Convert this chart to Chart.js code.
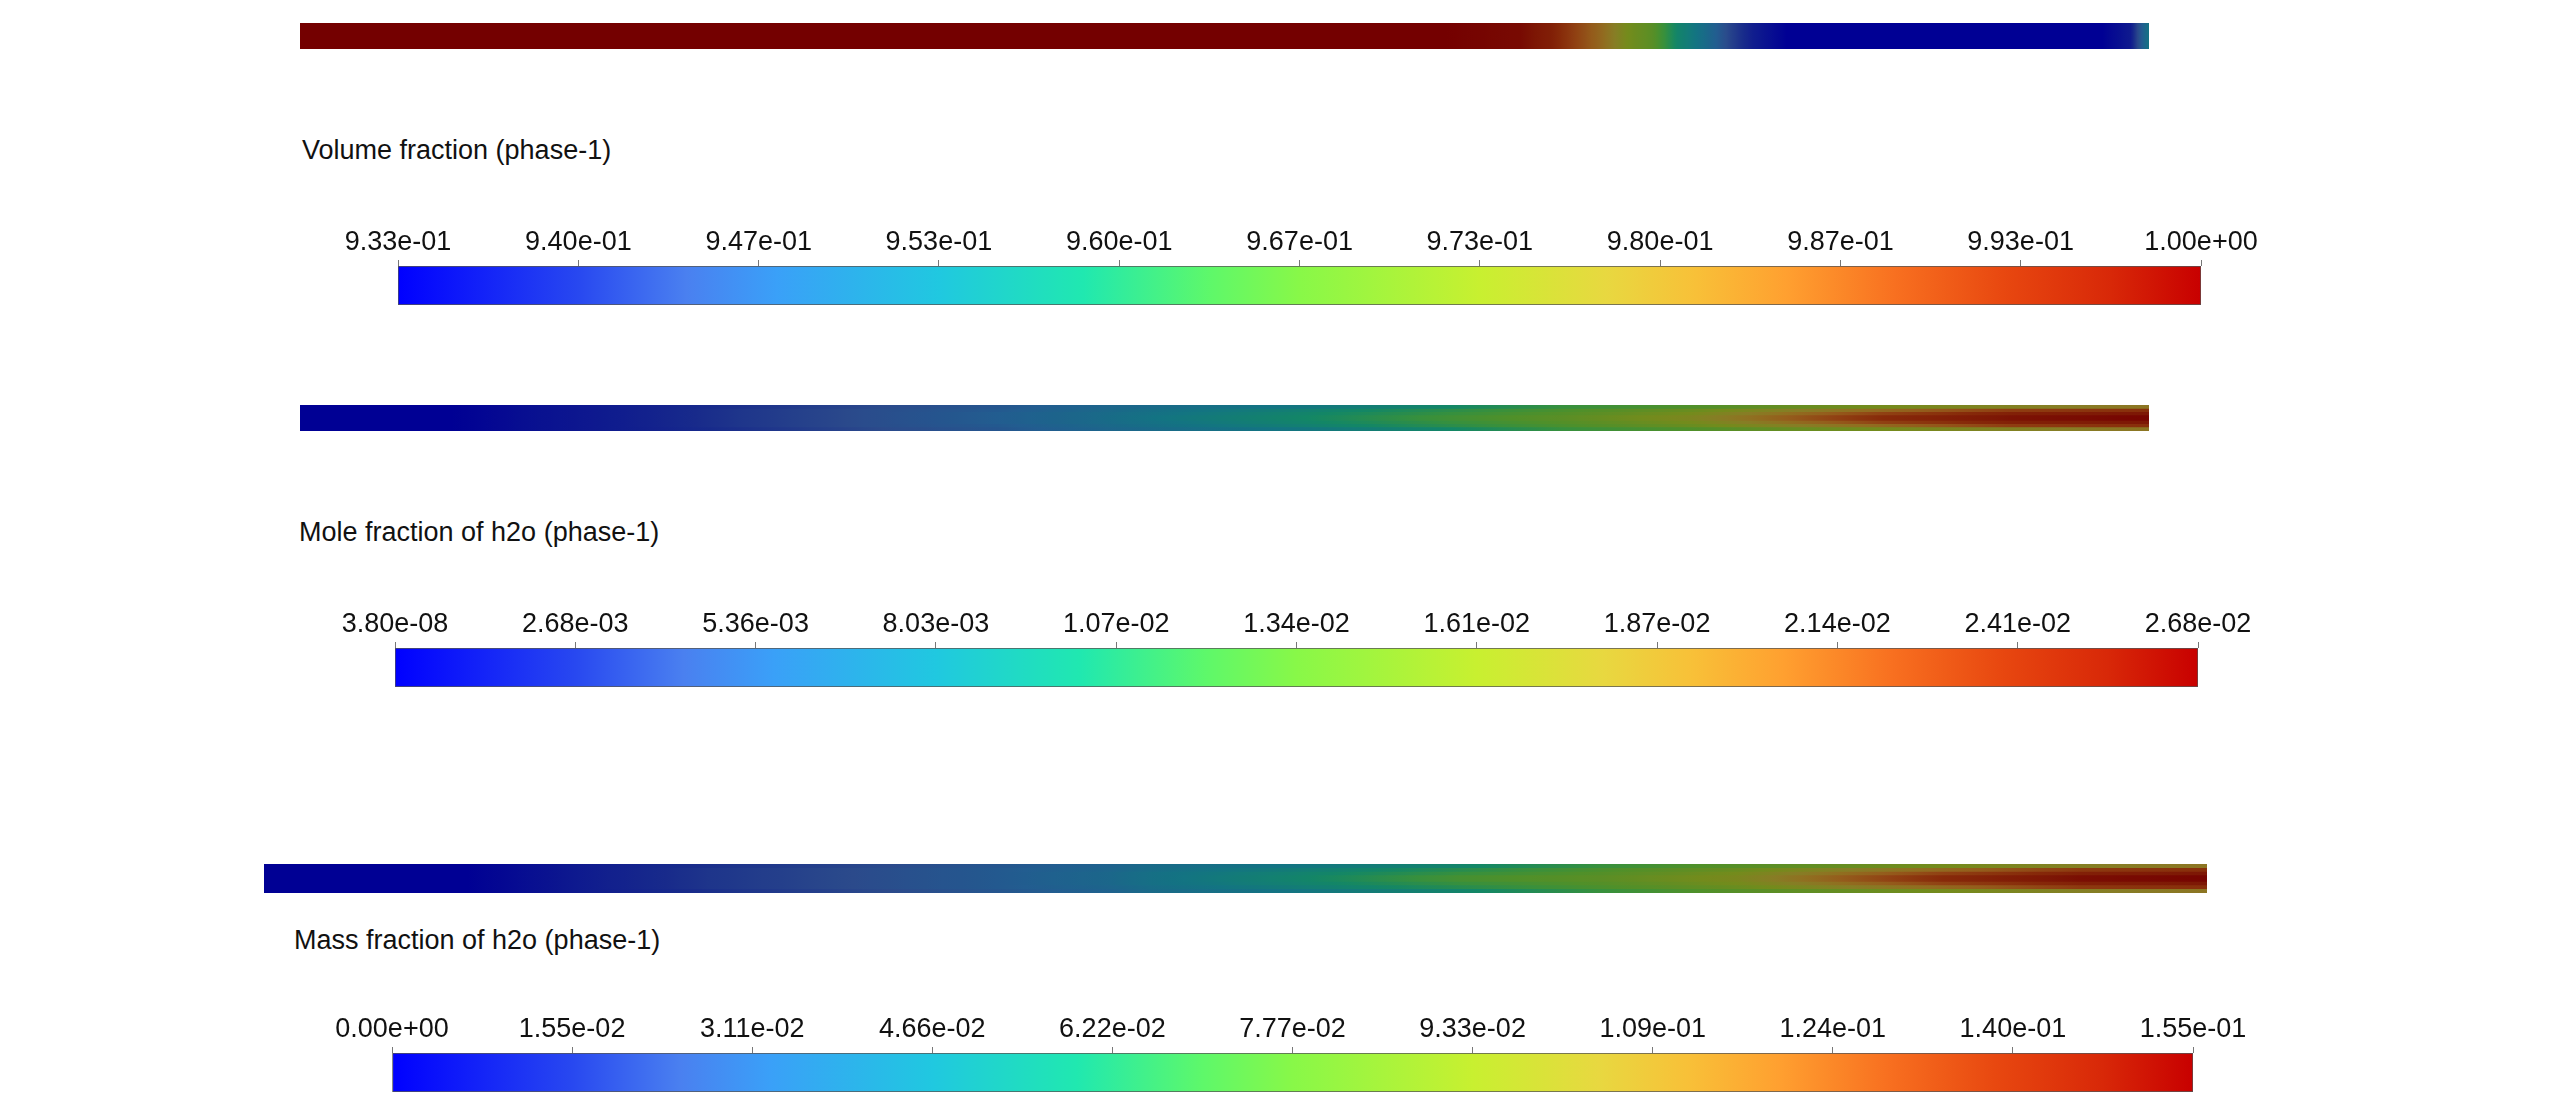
<!DOCTYPE html>
<html>
<head>
<meta charset="utf-8">
<script src="https://cdn.jsdelivr.net/npm/chart.js@4.4.1/dist/chart.umd.min.js"></script>
<style>
  html, body { margin:0; padding:0; background:#fff; }
  body { width:2560px; height:1117px; position:relative; overflow:hidden; font-family:'Liberation Sans', Arial, sans-serif; }
  .box { position:absolute; }
  .title { position:absolute; font-size:27px; color:#111; white-space:nowrap; line-height:1; }
</style>
</head>
<body>
<div class="box" style="left:300px;top:23px;width:1849px;height:26px"><canvas id="strip1"></canvas></div>
<div class="title" style="left:302px;top:137px">Volume fraction (phase-1)</div>
<div class="box" style="left:318px;top:206px;width:1963px;height:102px"><canvas id="bar1"></canvas></div>

<div class="box" style="left:300px;top:405px;width:1849px;height:26px"><canvas id="strip2"></canvas></div>
<div class="title" style="left:299px;top:519px">Mole fraction of h2o (phase-1)</div>
<div class="box" style="left:315px;top:588px;width:1963px;height:102px"><canvas id="bar2"></canvas></div>

<div class="box" style="left:264px;top:864px;width:1943px;height:29px"><canvas id="strip3"></canvas></div>
<div class="title" style="left:294px;top:927px">Mass fraction of h2o (phase-1)</div>
<div class="box" style="left:312px;top:993px;width:1961px;height:102px"><canvas id="bar3"></canvas></div>

<script>
// Volume fraction (phase-1)
var vofTicks = [0.93333, 0.94, 0.94667, 0.95333, 0.96, 0.96667, 0.97333, 0.98, 0.98667, 0.99333, 1.0];
var vofLabels = ['9.33e-01','9.40e-01','9.47e-01','9.53e-01','9.60e-01','9.67e-01','9.73e-01','9.80e-01','9.87e-01','9.93e-01','1.00e+00'];
// position along the strip (0 = left end, 1 = right end)
var vofPos = [0, 0.62, 0.66, 0.676, 0.69, 0.704, 0.718, 0.731, 0.745, 0.759, 0.773, 0.786, 0.804, 0.975, 0.99, 1.0];
var vofVal = [1.0, 1.0, 0.9985, 0.9953, 0.9887, 0.9827, 0.9733, 0.9687, 0.958, 0.9513, 0.9433, 0.938, 0.9334, 0.9334, 0.9375, 0.953];

// Mole fraction of h2o (phase-1)
var moleTicks = [3.8e-8, 0.0026775, 0.005355, 0.0080325, 0.01071, 0.0133875, 0.016065, 0.0187425, 0.02142, 0.0240975, 0.026775];
var moleLabels = ['3.80e-08','2.68e-03','5.36e-03','8.03e-03','1.07e-02','1.34e-02','1.61e-02','1.87e-02','2.14e-02','2.41e-02','2.68e-02'];
var molePos   = [0, 0.082, 0.129, 0.175, 0.237, 0.315, 0.377, 0.423, 0.476, 0.545, 0.614, 0.683, 0.752, 0.804, 0.856, 0.925, 1.0];
var moleCore  = [0, 0, 0.00107, 0.00187, 0.00321, 0.00455, 0.00562, 0.00669, 0.0083, 0.01017, 0.01232, 0.01419, 0.01687, 0.02062, 0.02383, 0.0257, 0.02651];
var moleInner = [0, 0, 0.00107, 0.00187, 0.00321, 0.00455, 0.00562, 0.00669, 0.00803, 0.00991, 0.01178, 0.01366, 0.01607, 0.01928, 0.02222, 0.02463, 0.02544];
var moleMid   = [0, 0, 0.00107, 0.00187, 0.00321, 0.00455, 0.00536, 0.00643, 0.00776, 0.00937, 0.01125, 0.01312, 0.01526, 0.01767, 0.01981, 0.02249, 0.02356];
var moleEdge  = [0, 0, 0.00107, 0.00187, 0.00295, 0.00428, 0.00509, 0.00616, 0.00723, 0.0083, 0.00991, 0.01205, 0.01339, 0.01499, 0.01607, 0.0174, 0.01874];

// Mass fraction of h2o (phase-1)
var massTicks = [0, 0.015545, 0.03109, 0.046635, 0.06218, 0.077725, 0.09327, 0.108815, 0.12436, 0.139905, 0.15545];
var massLabels = ['0.00e+00','1.55e-02','3.11e-02','4.66e-02','6.22e-02','7.77e-02','9.33e-02','1.09e-01','1.24e-01','1.40e-01','1.55e-01'];
var massPos   = [0, 0.105, 0.17, 0.229, 0.303, 0.377, 0.436, 0.456, 0.527, 0.616, 0.687, 0.758, 0.811, 0.864, 0.935, 1.0];
var massCore  = [0, 0, 0.01088, 0.01865, 0.02487, 0.03109, 0.03886, 0.04353, 0.05596, 0.07462, 0.08239, 0.09638, 0.1197, 0.13835, 0.15079, 0.1539];
var massInner = [0, 0, 0.01088, 0.01865, 0.02487, 0.03109, 0.03886, 0.04353, 0.05441, 0.06995, 0.07928, 0.09327, 0.11192, 0.12902, 0.14301, 0.14768];
var massMid   = [0, 0, 0.01088, 0.01865, 0.02487, 0.03109, 0.03731, 0.04197, 0.0513, 0.06529, 0.07617, 0.08861, 0.1026, 0.11503, 0.13213, 0.1368];
var massEdge  = [0, 0, 0.01088, 0.0171, 0.02332, 0.02954, 0.03575, 0.04042, 0.04664, 0.05752, 0.06995, 0.08083, 0.08705, 0.09327, 0.1026, 0.10882];

// share of the strip height covered by each layer (core on top)
var layerHeights = [0.22, 0.46, 0.72, 1.0];

// colour map of the legend bars
var jetStops = [[0,'#0000ff'],[0.1,'#2848f0'],[0.16,'#4a80f0'],[0.21,'#3aa0f8'],[0.3,'#20c8e0'],[0.38,'#20e8b0'],
  [0.45,'#5ef86a'],[0.5,'#88f848'],[0.6,'#c8f030'],[0.67,'#e8d840'],[0.72,'#f8c038'],[0.77,'#ffa030'],
  [0.83,'#f87020'],[0.89,'#e84810'],[0.95,'#d82808'],[1,'#c80000']];
var SHADE = 0.58; // contour strips are darker than the legend
var FONT = "'Liberation Sans', Arial, sans-serif";

function hexRgb(h){
  return [parseInt(h.slice(1,3),16), parseInt(h.slice(3,5),16), parseInt(h.slice(5,7),16)];
}
function cmap(t, k){
  t = Math.max(0, Math.min(1, t));
  for (var i = 1; i < jetStops.length; i++){
    if (t <= jetStops[i][0]){
      var a = jetStops[i-1], b = jetStops[i];
      var f = (t - a[0]) / (b[0] - a[0]);
      var ca = hexRgb(a[1]), cb = hexRgb(b[1]);
      var c = ca.map(function(v, j){ return Math.round((v + (cb[j] - v) * f) * k); });
      return 'rgb(' + c.join(',') + ')';
    }
  }
  return 'rgb(0,0,0)';
}

function fieldGradient(chart, pos, vals, vmin, vmax){
  var xs = chart.scales.x;
  var x0 = xs.getPixelForValue(0), x1 = xs.getPixelForValue(1);
  var g = chart.ctx.createLinearGradient(x0, 0, x1, 0);
  for (var i = 0; i < pos.length - 1; i++){
    for (var s = 0; s < 8; s++){
      var p = pos[i] + (pos[i+1] - pos[i]) * s / 8;
      var v = vals[i] + (vals[i+1] - vals[i]) * s / 8;
      g.addColorStop(p, cmap((v - vmin) / (vmax - vmin), SHADE));
    }
  }
  g.addColorStop(1, cmap((vals[vals.length-1] - vmin) / (vmax - vmin), SHADE));
  return g;
}

// layers: first = centre line (drawn last, on top), last = wall
function stripChart(id, pos, layers, vmin, vmax){
  var sets = layers.map(function(vals, i){
    return {
      data: [[0, 1]],
      backgroundColor: function(c){
        if (!c.chart.chartArea) return '#000';
        return fieldGradient(c.chart, pos, vals, vmin, vmax);
      },
      borderWidth: 0,
      grouped: false,
      barPercentage: layers.length == 1 ? 1 : layerHeights[i],
      categoryPercentage: 1
    };
  });
  return new Chart(document.getElementById(id), {
    type: 'bar',
    data: { labels: ['strip'], datasets: sets },
    options: {
      indexAxis: 'y',
      responsive: true,
      maintainAspectRatio: false,
      animation: false,
      devicePixelRatio: 1,
      layout: { padding: 0 },
      plugins: { legend: { display: false }, tooltip: { enabled: false } },
      scales: {
        x: { type: 'linear', min: 0, max: 1, display: false },
        y: { display: false }
      }
    }
  });
}

function colorbarChart(id, ticks, labels){
  var vmin = ticks[0], vmax = ticks[ticks.length-1];
  return new Chart(document.getElementById(id), {
    type: 'bar',
    data: {
      labels: ['range'],
      datasets: [{
        data: [[vmin, vmax]],
        backgroundColor: function(c){
          if (!c.chart.chartArea) return '#000';
          var xs = c.chart.scales.x;
          var g = c.chart.ctx.createLinearGradient(xs.getPixelForValue(vmin), 0, xs.getPixelForValue(vmax), 0);
          jetStops.forEach(function(st){ g.addColorStop(st[0], st[1]); });
          return g;
        },
        borderColor: '#555',
        borderWidth: 1,
        borderSkipped: false,
        barPercentage: 1,
        categoryPercentage: 1
      }]
    },
    options: {
      indexAxis: 'y',
      responsive: true,
      maintainAspectRatio: false,
      animation: false,
      devicePixelRatio: 1,
      layout: { padding: { left: 80, right: 80, top: 0, bottom: 3 } },
      plugins: { legend: { display: false }, tooltip: { enabled: false } },
      scales: {
        x: {
          type: 'linear',
          position: 'top',
          min: vmin,
          max: vmax,
          afterBuildTicks: function(s){ s.ticks = ticks.map(function(v){ return { value: v }; }); },
          afterFit: function(s){ s.height = 60; },
          ticks: {
            autoSkip: false,
            maxRotation: 0,
            padding: 1,
            color: '#111',
            font: { family: FONT, size: 27 },
            callback: function(v, i){ return labels[i]; }
          },
          grid: { drawOnChartArea: false, drawTicks: true, tickLength: 6, color: '#777' },
          border: { display: false }
        },
        y: { display: false }
      }
    }
  });
}

stripChart('strip1', vofPos, [vofVal], vofTicks[0], vofTicks[vofTicks.length-1]);
colorbarChart('bar1', vofTicks, vofLabels);

stripChart('strip2', molePos, [moleCore, moleInner, moleMid, moleEdge], moleTicks[0], moleTicks[moleTicks.length-1]);
colorbarChart('bar2', moleTicks, moleLabels);

stripChart('strip3', massPos, [massCore, massInner, massMid, massEdge], massTicks[0], massTicks[massTicks.length-1]);
colorbarChart('bar3', massTicks, massLabels);
</script>
</body>
</html>
